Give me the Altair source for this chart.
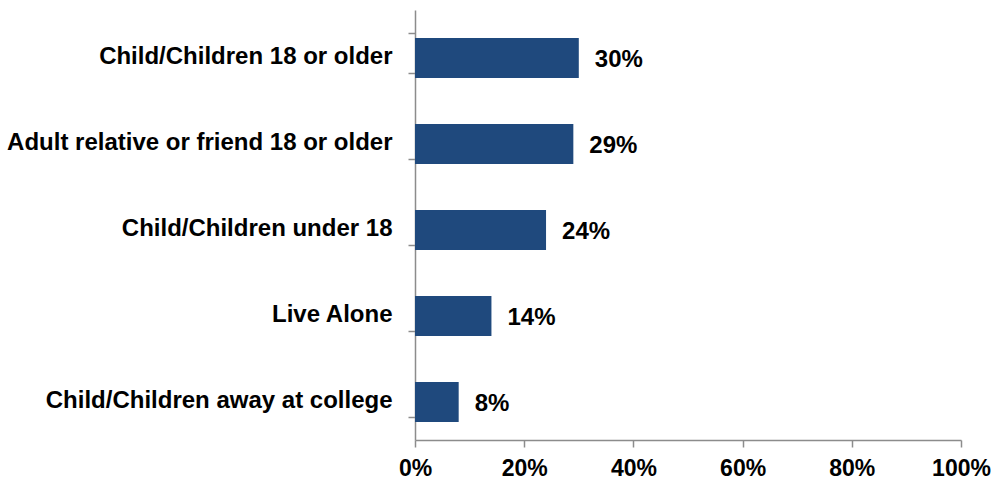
import altair as alt
import pandas as pd

categories = [
    "Child/Children 18 or older",
    "Adult relative or friend 18 or older",
    "Child/Children under 18",
    "Live Alone",
    "Child/Children away at college",
]
values = [0.30, 0.29, 0.24, 0.14, 0.08]
labels = ["30%", "29%", "24%", "14%", "8%"]

df = pd.DataFrame({"category": categories, "value": values, "label": labels})

FONT = "Liberation Sans"

y_enc = alt.Y(
    "category:N",
    sort=categories,
    title=None,
    scale=alt.Scale(paddingInner=0.535, paddingOuter=0.2675),
    axis=alt.Axis(
        labelFont=FONT,
        labelFontSize=24,
        labelFontWeight="bold",
        labelColor="black",
        labelPadding=16,
        labelOffset=3,
        labelLimit=500,
        tickSize=7,
        tickColor="#8c8c8c",
        tickWidth=1.5,
        domainColor="#8c8c8c",
        domainWidth=1.5,
        grid=False,
        tickBand="extent",
    ),
)

x_enc = alt.X(
    "value:Q",
    title=None,
    scale=alt.Scale(domain=[0, 1], nice=False),
    axis=alt.Axis(
        values=[0, 0.2, 0.4, 0.6, 0.8, 1.0],
        format=".0%",
        labelFont=FONT,
        labelFontSize=23,
        labelFontWeight="bold",
        labelColor="black",
        labelPadding=10,
        tickSize=7,
        tickColor="#8c8c8c",
        tickWidth=1.5,
        domainColor="#8c8c8c",
        domainWidth=1.5,
        grid=False,
        labelFlush=False,
    ),
)

bars = alt.Chart(df).mark_bar(color="#1F497D", yOffset=5).encode(x=x_enc, y=y_enc)

text = alt.Chart(df).mark_text(
    align="left",
    baseline="middle",
    dx=16,
    dy=7,
    font=FONT,
    fontSize=24,
    fontWeight="bold",
    color="black",
).encode(x="value:Q", y=alt.Y("category:N", sort=categories), text="label:N")

chart = (
    alt.layer(bars, text)
    .properties(
        width=546,
        height=430,
        autosize=alt.AutoSizeParams(type="none"),
        padding={"left": 415, "top": 10, "right": 32, "bottom": 42},
        background="white",
    )
    .configure_view(stroke=None)
)

chart.save("out.html", embed_options={"renderer": "svg", "actions": False})
